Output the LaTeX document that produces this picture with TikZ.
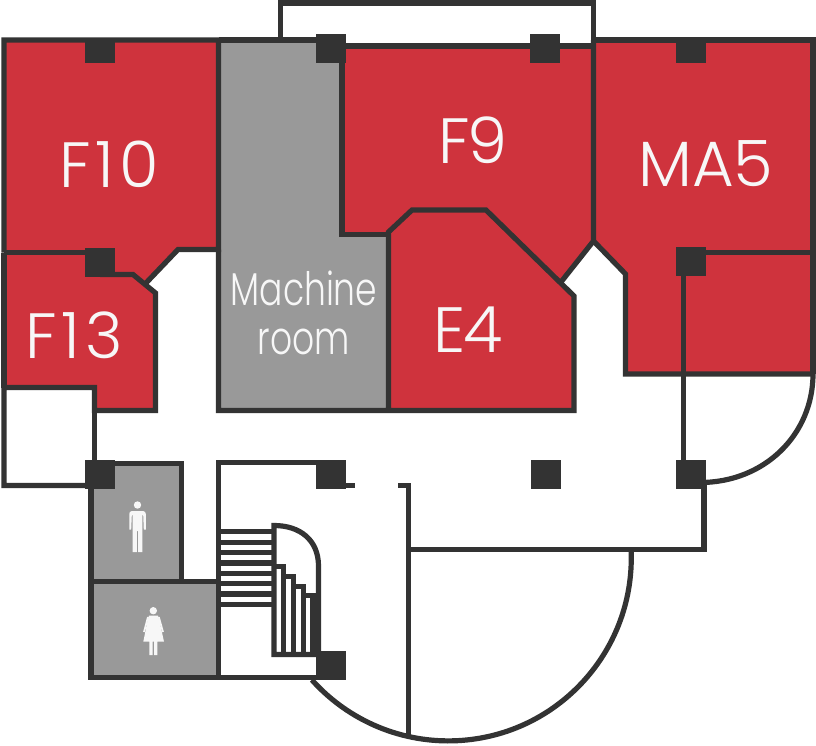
\documentclass[tikz,border=0pt]{standalone}
\usepackage{fontspec}
\setmainfont{Poppins Light}
\definecolor{wallc}{HTML}{333333}
\definecolor{redc}{HTML}{CF333D}
\definecolor{grayc}{HTML}{999999}
\definecolor{textc}{HTML}{F7F7F7}
\tikzset{
  wall/.style={draw=wallc,line width=5.2pt,miter limit=10},
  redroom/.style={fill=redc},
  grayroom/.style={fill=grayc},
  pillar/.style={fill=wallc},
  icon/.style={fill=textc},
  biglabel/.style={text=textc,font=\fontsize{64}{64}\selectfont,anchor=base,inner sep=0pt},
  smalllabel/.style={text=textc,font=\fontsize{46}{46}\selectfont\addfontfeature{FakeStretch=0.75},anchor=base,inner sep=0pt}
}
\begin{document}
\begin{tikzpicture}[x=1pt,y=-1pt]
\path[use as bounding box] (0,0) rectangle (816,745);
% fills
\path[redroom] (4,40) -- (218.5,40) -- (218.5,249.5) -- (178,249.5) -- (146,283) -- (155.5,292) -- (155.5,410.5) -- (94.5,410.5) -- (94.5,387.5) -- (4,387.5) -- cycle;
\path[grayroom] (218.5,40) -- (342,40) -- (342,234.5) -- (388.5,234.5) -- (388.5,410.5) -- (218.5,410.5) -- cycle;
\path[redroom] (342,46) -- (593.5,46) -- (593.5,242) -- (561,282) -- (574,297) -- (574,410.5) -- (388.5,410.5) -- (388.5,234.5) -- (342,234.5) -- cycle;
\path[redroom] (593.5,40) -- (813,40) -- (813,374) -- (625.5,374) -- (625.5,273) -- (596,243) -- (593.5,241) -- cycle;
\path[grayroom] (91,463.5) -- (181.5,463.5) -- (181.5,581.5) -- (218.5,581.5) -- (218.5,677) -- (91,677) -- cycle;
% outer walls
\draw[wall] (280.5,40) -- (280.5,3) -- (593.5,3) -- (593.5,46);
\draw[wall] (342,46) -- (593.5,46);
\draw[wall] (218.5,40) -- (342,40);
\draw[wall] (4,252.5) -- (4,40) -- (218.5,40) -- (218.5,249.5) -- (178,249.5) -- (146,283);
\draw[wall] (593.5,40) -- (813,40) -- (813,374);
\draw[wall] (4,252.5) -- (100,252.5);
\draw[wall] (100,274.5) -- (133,274.5) -- (155.5,293) -- (155.5,410.5) -- (94.5,410.5) -- (94.5,387.5) -- (4,387.5) -- (4,485.5) -- (100,485.5);
\draw[wall] (4,252.5) -- (4,387.5);
\draw[wall] (94.5,387.5) -- (94.5,470);
% machine room and E4
\draw[wall] (218.5,249.5) -- (218.5,410.5) -- (574,410.5) -- (574,296) -- (486,210) -- (412,210) -- (388.5,232) -- (388.5,410.5);
\draw[wall] (342,40) -- (342,234.5) -- (388.5,234.5);
% F9 / MA5
\draw[wall] (593.5,40) -- (593.5,241) -- (561,282);
\draw[wall] (593.5,241) -- (625.5,274) -- (625.5,374) -- (813,374);
\draw[wall] (690,252.5) -- (813,252.5);
\draw[wall] (683.5,262) -- (683.5,475);
\draw[wall] (813,374) .. controls (813,434) and (765,482.5) .. (700,482.5);
% lower walls
\draw[wall] (704,480) -- (704,549.5) -- (408.5,549.5);
\draw[wall] (398,485.5) -- (408.5,485.5) -- (408.5,736);
\draw[wall] (345,485.5) -- (355,485.5);
\draw[wall] (330,462.5) -- (218.5,462.5) -- (218.5,677.5);
\draw[wall] (631,548) arc[start angle=-3.1,end angle=138.2,radius=183];
\draw[wall] (91,470) -- (91,677.5) -- (330,677.5);
\draw[wall] (100,463.5) -- (181.5,463.5) -- (181.5,581.5);
\draw[wall] (91,581.5) -- (218.5,581.5);
% stairs
\foreach \yy in {531.7,542.3,552.7,563,573.3,583.7,594,604.3} \draw[wall] (218.5,\yy) -- (274,\yy);
\draw[wall] (318.5,655) -- (318.5,566) .. controls (318.5,540) and (300,525.5) .. (274,525.5) -- (274,654.5) -- (318.5,654.5);
\draw[wall] (274,566.7) -- (283.7,566.7) -- (283.7,654.5);
\draw[wall] (283.7,576.7) -- (293.3,576.7) -- (293.3,654.5);
\draw[wall] (293.3,586.7) -- (303.2,586.7) -- (303.2,654.5);
\draw[wall] (303.2,595.5) -- (313,595.5) -- (313,654.5);
\draw[wall] (313,595.5) -- (318.5,595.5);
% pillars
\foreach \px/\py/\ph in {85/42/21,316/34/29,530/34/29,676/42/21,85/248/29,676/247/29,85/460/29,316/460/29,531/460/29,676/460/29,316/651/29}
  \path[pillar] (\px,\py) rectangle ++(29.5,\ph);
% man icon
\path[icon] (137.5,505) circle[radius=3.7];
\path[icon] (132,511) -- (143,511) .. controls (145,511) and (145.8,512.5) .. (145.8,514) -- (145.8,529.5) -- (143.8,529.5) -- (143.2,515) -- (142.4,515) -- (142.4,552) -- (138.2,552) -- (138.2,531) -- (136.8,531) -- (136.8,552) -- (132.6,552) -- (132.6,515) -- (131.8,515) -- (131.2,529.5) -- (129.3,529.5) -- (129.3,514) .. controls (129.3,512.5) and (130,511) .. (132,511) -- cycle;
% woman icon
\path[icon] (153.3,610.7) circle[radius=3.7];
\path[icon] (149,615.5) -- (158,615.5) -- (159.5,621) -- (164,641.7) -- (157.3,641.7) -- (157.3,655) -- (154,655) -- (154,641.7) -- (152.7,641.7) -- (152.7,655) -- (149.3,655) -- (149.3,641.7) -- (143.3,641.7) -- (147.5,621) -- cycle;
\draw[textc,line width=1.8pt] (148,617) -- (144,632);
\draw[textc,line width=1.8pt] (158.8,617) -- (163,632);
% labels
\node[biglabel] (f10) at (109,187) {F\kern5pt 1\kern5pt 0};
\node[biglabel] (f9) at (473,163) {F\kern-3pt 9};
\node[biglabel] (ma5) at (706,186) {MA\kern-1pt 5};
\node[biglabel] (f13) at (74,358) {F\kern5pt 1\kern5pt 3};
\node[biglabel] (e4) at (468,352) {E\kern-3pt 4};
\node[smalllabel] (mach) at (304,305) {Machine};
\node[smalllabel] (room) at (304,354) {room};
\end{tikzpicture}
\end{document}
